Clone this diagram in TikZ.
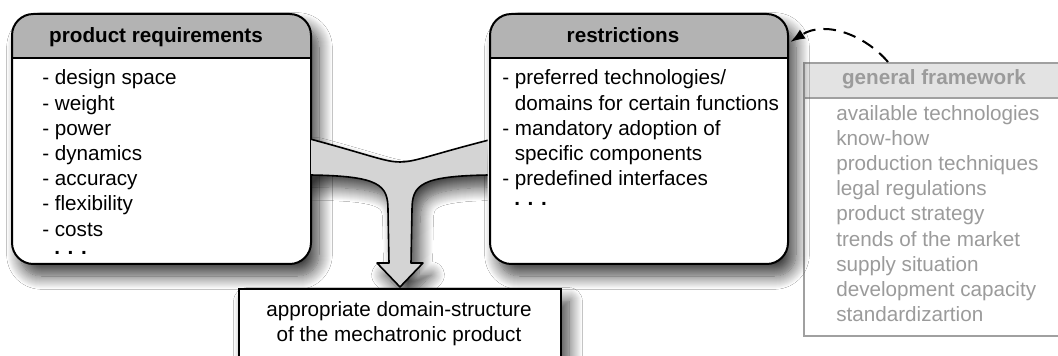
\documentclass[tikz,border=0pt]{standalone}
\usepackage{fontspec}
\setmainfont{Liberation Sans}
\usetikzlibrary{shadows.blur,arrows.meta}
\definecolor{hdrgray}{RGB}{179,179,179}
\definecolor{arrgray}{RGB}{212,212,212}
\definecolor{gftext}{RGB}{155,155,155}
\definecolor{gfline}{RGB}{160,160,160}
\definecolor{gfhdr}{RGB}{227,227,227}
\newcommand{\fsz}{\fontsize{15.5}{18.9}\selectfont}
\begin{document}
\begin{tikzpicture}[x=0.75pt,y=-0.75pt,
  shad/.style={blur shadow={shadow xshift=6pt, shadow yshift=-9pt, shadow blur radius=10pt, shadow blur steps=14, shadow opacity=75}},
  mainbox/.style={draw=black, line width=1.5pt, fill=white, rounded corners=16pt, inner sep=0pt,
     anchor=north west, shad,
     path picture={
       \fill[hdrgray, sharp corners] (path picture bounding box.north west) rectangle ([yshift=-33pt]path picture bounding box.north east);
       \draw[line width=1.5pt, sharp corners] ([yshift=-33pt]path picture bounding box.north west) -- ([yshift=-33pt]path picture bounding box.north east);}},
  gfbox/.style={draw=gfline, line width=1.5pt, fill=white, inner sep=0pt, anchor=north west,
     path picture={
       \fill[gfhdr] (path picture bounding box.north west) rectangle ([yshift=-26.25pt]path picture bounding box.north east);
       \draw[gfline, line width=1.5pt] ([yshift=-26.25pt]path picture bounding box.north west) -- ([yshift=-26.25pt]path picture bounding box.north east);}},
  hdrtxt/.style={anchor=base, inner sep=0pt, font=\fsz\bfseries},
  lst/.style={anchor=base west, inner sep=0pt, align=left, font=\fsz},
  dots/.style={anchor=base west, inner sep=0pt, font=\fsz\bfseries},
  dasharrow/.style={line width=1.5pt, dash pattern=on 9.5pt off 6pt, -{Latex[length=11pt,width=8pt]}}
]
\useasboundingbox (0,0) rectangle (1058,356);
\clip (0,0) rectangle (1058,356);
\fill[white] (0,0) rectangle (1058,356);

% general framework
\node[gfbox, minimum width=196.5pt, minimum height=204.75pt] (gf) at (803,62) {};
\node[hdrtxt, text=gftext] (gfT) at (934,85) {general framework};
\node[lst, text=gftext] (gfL) at (836,321.6) {available technologies\\know-how\\production techniques\\legal regulations\\product strategy\\trends of the market\\supply situation\\development capacity\\standardizartion};

% product requirements
\node[mainbox, minimum width=224.25pt, minimum height=187.5pt] (req) at (11,13) {};
\node[hdrtxt] (reqT) at (156,43) {product requirements};
\node[lst] (reqL) at (42,236.2) {- design space\\- weight\\- power\\- dynamics\\- accuracy\\- flexibility\\- costs};
\node[dots] (reqD) at (54,255) {. . .};

% restrictions
\node[mainbox, minimum width=223.5pt, minimum height=187.5pt] (rs) at (489,13) {};
\node[hdrtxt] (rsT) at (623,43) {restrictions};
\node[lst] (rsL) at (502,185.8) {- preferred technologies/\\\hphantom{- }domains for certain functions\\- mandatory adoption of\\\hphantom{- }specific components\\- predefined interfaces};
\node[dots] (rsD) at (514,206) {. . .};

% merging arrow
\begin{scope}
\clip (311,0) rectangle (487.5,356);
\draw[line width=1.2pt, fill=arrgray, shad, line join=round]
  (300,139) -- (310,139) .. controls (370,155) and (385,162) .. (400,162)
  .. controls (415,162) and (430,155) .. (489,140) -- (500,140) -- (500,175) -- (489,175)
  .. controls (420,176) and (412,185) .. (412,210) -- (411,263) -- (423,263) -- (400,287)
  -- (377,263) -- (389,263) -- (388,210)
  .. controls (388,185) and (380,176) .. (310,175) -- (300,175) -- cycle;
\end{scope}

% result box
\node[draw=black, line width=1.5pt, fill=white, inner sep=0pt, anchor=north west,
      minimum width=241.5pt, minimum height=66pt, shad] (res) at (238,288) {};
\node[anchor=base, inner sep=0pt, align=center, font=\fsz] (resT) at (399,342) {appropriate domain-structure\\of the mechatronic product};

% dashed influence arrow
\coordinate (gfA) at ([xshift=63.75pt]gf.north west);
\coordinate (rsA) at ([yshift=-21.75pt]rs.north east);
\draw[dasharrow] (gfA) .. controls (865,35) and (825,20) .. ([xshift=1pt]rsA);
\end{tikzpicture}
\end{document}
